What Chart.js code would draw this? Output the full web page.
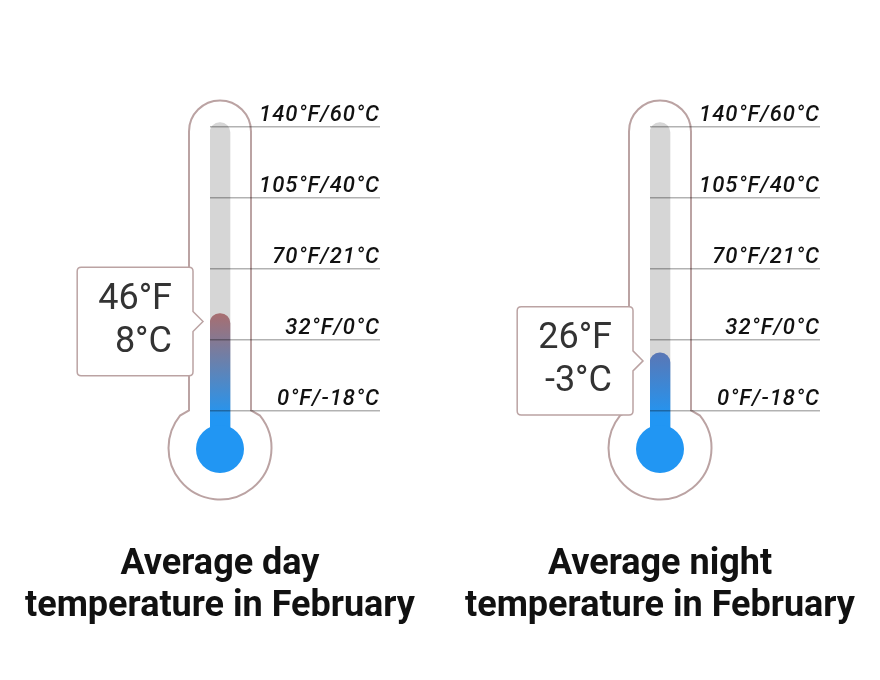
<!DOCTYPE html>
<html>
<head>
<meta charset="utf-8">
<script src="https://cdn.jsdelivr.net/npm/chart.js@4.4.1/dist/chart.umd.min.js"></script>
<style>
  body { margin: 0; background: #fff; }
  #wrap { display: flex; width: 880px; height: 680px; }
  .col { width: 440px; }
  .col canvas { display: block; }
  .ttl { font-family: Roboto, sans-serif; font-weight: bold; font-size: 36px; line-height: 42px;
         text-align: center; color: #111; margin-top: 10.6px; }
</style>
</head>
<body>
<div id="wrap">
  <div class="col"><canvas id="day" width="440" height="530"></canvas><div class="ttl" id="dayTitle"></div></div>
  <div class="col"><canvas id="night" width="440" height="530"></canvas><div class="ttl" id="nightTitle"></div></div>
</div>
<script>
// scale marks on the thermometer
var tickF = [0, 32, 70, 105, 140];
var tickC = [-18, 0, 21, 40, 60];

// readings: day, night
var canvasIds = ['day', 'night'];
var tempF = [46, 26];
var tempC = [8, -3];
var titles = [['Average day', 'temperature in February'], ['Average night', 'temperature in February']];

// styling
var topColors = ['#a86e70', '#5a77b5'];
var BLUE = '#2196f3';
var OUTLINE = '#bba3a3';
var BULB = -0.53, TUBE_TOP = 4.06, BAR_X = 1;

// marks are evenly spaced, so map a °F reading onto the mark index
function toPos(f) {
  for (var i = 1; i < tickF.length; i++) {
    if (f <= tickF[i]) return i - 1 + (f - tickF[i - 1]) / (tickF[i] - tickF[i - 1]);
  }
  return tickF.length - 1;
}

Chart.Tooltip.positioners.thermo = function(items) {
  if (!items.length) return false;
  var el = items[0].element;
  return { x: el.x - el.width / 2 - 3, y: el.y + 8 };
};

var thermo = {
  id: 'thermo',
  beforeDatasetsDraw: function(chart) {
    var ctx = chart.ctx, xs = chart.scales.x, ys = chart.scales.y;
    var cx = xs.getPixelForValue(BAR_X);
    var cy = ys.getPixelForValue(BULB);
    var neck = ys.getPixelForValue(0);
    var top = ys.getPixelForValue(4) + 4.5;
    var hw = 31, R = 51.5;
    var a0 = Math.atan2(Math.sqrt(R * R - 40 * 40), 40);
    ctx.save();
    ctx.beginPath();
    ctx.arc(cx, top, hw, Math.PI, 2 * Math.PI);
    ctx.lineTo(cx + hw, neck);
    ctx.arc(cx, cy, R, -a0, Math.PI + a0);
    ctx.lineTo(cx - hw, neck);
    ctx.closePath();
    ctx.lineWidth = 2;
    ctx.strokeStyle = OUTLINE;
    ctx.stroke();
    ctx.restore();
  },
  afterDatasetsDraw: function(chart) {
    var ctx = chart.ctx;
    var cx = chart.scales.x.getPixelForValue(BAR_X);
    var cy = chart.scales.y.getPixelForValue(BULB);
    ctx.save();
    ctx.beginPath();
    ctx.arc(cx, cy + 1, 24, 0, 2 * Math.PI);
    ctx.fillStyle = BLUE;
    ctx.fill();
    ctx.restore();
    ctx.letterSpacing = '1px';
  },
  beforeTooltipDraw: function(chart) {
    chart.ctx.letterSpacing = '0px';
  }
};

canvasIds.forEach(function(id, i) {
  document.getElementById(id + 'Title').innerHTML = titles[i].join('<br>');
  var chart = new Chart(document.getElementById(id), {
    type: 'bar',
    data: {
      datasets: [
        {
          order: 2,
          data: [{ x: BAR_X, y: [BULB, TUBE_TOP] }],
          backgroundColor: '#d6d6d6'
        },
        {
          order: 1,
          data: [{ x: BAR_X, y: [BULB, toPos(tempF[i])] }],
          backgroundColor: function(c) {
            var ch = c.chart, ys = ch.scales.y;
            if (!ch.chartArea || !ys) return topColors[i];
            var g = ch.ctx.createLinearGradient(0, ys.getPixelForValue(toPos(tempF[i])), 0, ys.getPixelForValue(-0.1));
            g.addColorStop(0, topColors[i]);
            g.addColorStop(1, BLUE);
            return g;
          }
        }
      ]
    },
    options: {
      responsive: false,
      animation: false,
      events: [],
      layout: { padding: { left: 210, right: 60, top: 91.5, bottom: 12.5 } },
      datasets: {
        bar: {
          barThickness: 20,
          grouped: false,
          borderSkipped: false,
          borderRadius: { topLeft: 10, topRight: 10, bottomLeft: 0, bottomRight: 0 }
        }
      },
      scales: {
        x: { type: 'linear', display: false, offset: false, min: 0, max: 17 },
        y: {
          type: 'linear', position: 'right', min: -1.5, max: 4.5,
          afterBuildTicks: function(s) { s.ticks = tickF.map(function(_, k) { return { value: k }; }); },
          afterFit: function(s) { s.width = 0; },
          grid: { color: 'rgba(0,0,0,0.3)', lineWidth: 1.5, drawTicks: false, z: 1 },
          border: { display: false },
          ticks: {
            mirror: true, padding: 0, labelOffset: -11, color: '#111', z: 2,
            font: { family: 'Roboto', size: 22, style: 'italic', weight: '500' },
            callback: function(v, k) { return tickF[k] + '°F/' + tickC[k] + '°C'; }
          }
        }
      },
      plugins: {
        legend: { display: false },
        tooltip: {
          enabled: true, position: 'thermo', xAlign: 'right', yAlign: 'center',
          animation: false,
          filter: function(item) { return item.datasetIndex === 1; },
          backgroundColor: '#fff', borderColor: OUTLINE, borderWidth: 1.5, cornerRadius: 4,
          caretSize: 10, caretPadding: 4, displayColors: false,
          padding: { top: 11, bottom: 11, left: 17, right: 21 },
          bodyFont: { family: 'Roboto', size: 36 }, bodyColor: '#333', bodyAlign: 'right', bodySpacing: 0,
          callbacks: {
            title: function() { return ''; },
            label: function() { return [tempF[i] + '°F', tempC[i] + '°C']; }
          }
        }
      }
    },
    plugins: [thermo]
  });
  chart.tooltip.setActiveElements([{ datasetIndex: 1, index: 0 }], { x: 0, y: 0 });
  chart.update();
});
</script>
</body>
</html>
